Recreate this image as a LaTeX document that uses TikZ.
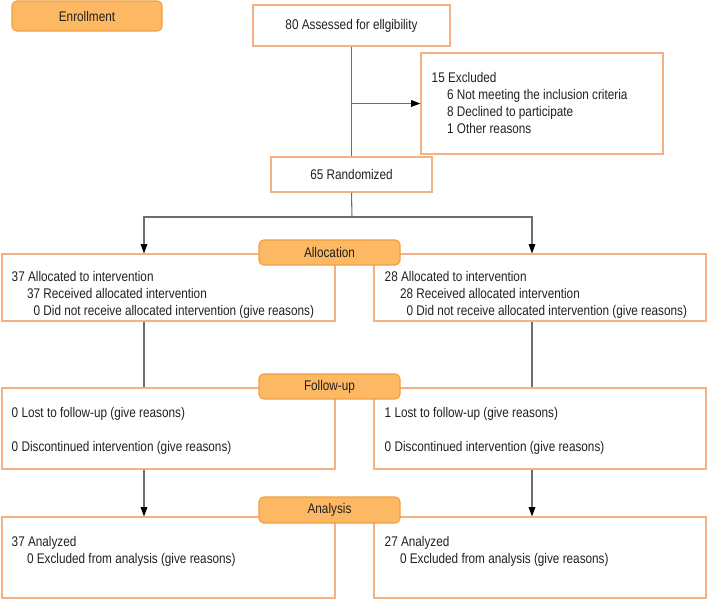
\documentclass[tikz,border=0pt]{standalone}
\usepackage{fontspec}
\setmainfont{Liberation Sans}[FakeStretch=0.84]
\usepackage{tikz}
\usetikzlibrary{arrows.meta,positioning,fit,calc}
\definecolor{FrameColor}{HTML}{F4B183}
\definecolor{TagColor}{HTML}{FDB863}
\definecolor{TagEdgeColor}{HTML}{F0A040}
\definecolor{LinkColor}{HTML}{6D6E71}
\definecolor{InkColor}{HTML}{231F20}
\newcommand{\subind}{\hspace*{11.5pt}}

\begin{document}
\begin{tikzpicture}[x=0.75pt,y=-0.75pt,
  every node/.style={font=\fontsize{10.5}{12.75}\selectfont,text=InkColor},
  frame/.style={draw=FrameColor,line width=0.8pt,inner sep=0pt},
  tag/.style={draw=TagEdgeColor,fill=TagColor,rounded corners=3.5pt,line width=0.8pt,inner sep=0pt,minimum width=105.75pt,minimum height=18.75pt},
  txt/.style={anchor=north west,align=left,inner sep=0pt},
  link/.style={draw=LinkColor,line width=0.8pt},
  arr/.style={link,-{Triangle[length=7pt,width=5pt,color=black]}}]
  \useasboundingbox (0,0) rectangle (708,599);
  \node[tag,minimum width=112.5pt,minimum height=22.5pt] (enrol) at (87,16) {Enrollment};
  \node[frame,minimum width=147.75pt,minimum height=30.75pt] (assess) at (351.5,25.5) {80 Assessed for ellgibility};
  \node[frame,fit={(421,53) (663,154)}] (excl) {};
  \node[txt] (excl-txt) at ($(excl.north west)+(11,20)$) {15 Excluded\\\subind 6 Not meeting the inclusion criteria\\\subind 8 Declined to participate\\\subind 1 Other reasons};
  \node[frame,minimum width=120.75pt,minimum height=26.25pt] (rand) at (351.5,174.5) {65 Randomized};
  \coordinate (split) at (352,217);
  \coordinate (col-l) at (144,0);
  \coordinate (col-r) at (532,0);

  \node[frame,fit={(2,254) (335,321)}] (alloc-l) {};
  \node[frame,fit={(374,254) (706,321)}] (alloc-r) {};
  \node[tag] (alloc-tag) at (329.5,252.5) {Allocation};
  \node[txt] (alloc-l-txt) at ($(alloc-l.north west)+(10,18)$) {37 Allocated to intervention\\\subind 37 Received allocated intervention\\\subind\phantom{0}0 Did not receive allocated intervention (give reasons)};
  \node[txt] (alloc-r-txt) at ($(alloc-r.north west)+(11,18)$) {28 Allocated to intervention\\\subind 28 Received allocated intervention\\\subind\phantom{0}0 Did not receive allocated intervention (give reasons)};

  \node[frame,fit={(2,388) (335,469)}] (fol-l) {};
  \node[frame,fit={(374,388) (706,469)}] (fol-r) {};
  \node[tag] (fol-tag) at (329.5,386.5) {Follow-up};
  \node[txt] (fol-l-txt) at ($(fol-l.north west)+(10,20)$) {0 Lost to follow-up (give reasons)\\[12.75pt]0 Discontinued intervention (give reasons)};
  \node[txt] (fol-r-txt) at ($(fol-r.north west)+(11,20)$) {1 Lost to follow-up (give reasons)\\[12.75pt]0 Discontinued intervention (give reasons)};

  \node[frame,fit={(2,517) (335,598)}] (ana-l) {};
  \node[frame,fit={(374,517) (706,598)}] (ana-r) {};
  \node[tag,minimum height=19.5pt] (ana-tag) at (329.5,510) {Analysis};
  \node[txt] (ana-l-txt) at ($(ana-l.north west)+(10,20)$) {37 Analyzed\\\subind 0 Excluded from analysis (give reasons)};
  \node[txt] (ana-r-txt) at ($(ana-r.north west)+(11,20)$) {27 Analyzed\\\subind 0 Excluded from analysis (give reasons)};

  \draw[link] (assess.south) -- (rand.north);
  \draw[arr] (assess.south |- excl.west) -- (excl.west);
  \draw[link] (rand.south) -- (split);
  \draw[arr] (split) -| (col-l |- alloc-l.north);
  \draw[arr] (split) -| (col-r |- alloc-r.north);
  \draw[link] (col-l |- alloc-l.south) -- (col-l |- fol-l.north);
  \draw[link] (col-r |- alloc-r.south) -- (col-r |- fol-r.north);
  \draw[arr] (col-l |- fol-l.south) -- (col-l |- ana-l.north);
  \draw[arr] (col-r |- fol-r.south) -- (col-r |- ana-r.north);
\end{tikzpicture}
\end{document}
